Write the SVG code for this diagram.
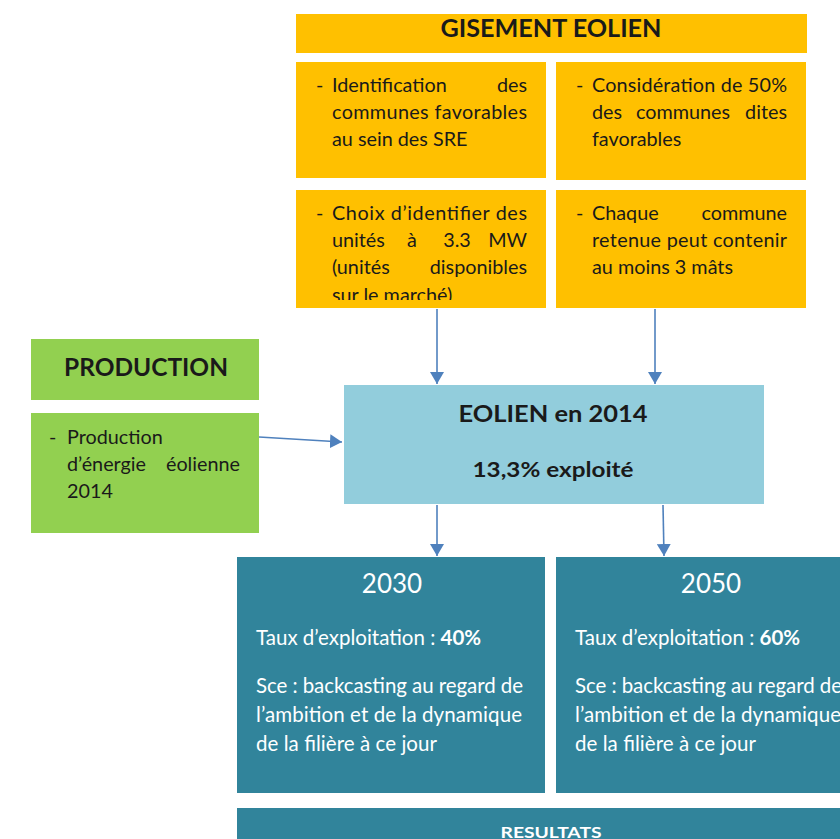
<svg xmlns="http://www.w3.org/2000/svg" width="840" height="839" viewBox="0 0 840 839">
<style>
.or{fill:#FFC000}
.gr{fill:#92D050}
.lb{fill:#92CDDC}
.tl{fill:#31849B}
.t{font-family:Lato,"Open Sans","Liberation Sans",sans-serif;font-size:19.8px;fill:#1a1a1a}
.w{font-family:Lato,"Open Sans","Liberation Sans",sans-serif;font-size:20.5px;fill:#ffffff}
.b{font-weight:bold}
.e{text-anchor:end}
.m{text-anchor:middle}
.cn{stroke:#4F81BD;stroke-width:1.6;fill:none}
</style>
<defs>
<marker id="ah" markerWidth="14" markerHeight="14" refX="12" refY="7" orient="auto" markerUnits="userSpaceOnUse">
<path d="M0,0 L12,7 L0,14 Z" fill="#4F81BD"/>
</marker>
<clipPath id="clipC"><rect x="296" y="190" width="250" height="110"/></clipPath>
</defs>
<rect width="840" height="839" fill="#ffffff"/>

<g id="gisement">
<rect class="or" x="296" y="14" width="511" height="39"/>
<text class="t b m" x="551" y="37" style="font-size:24px" textLength="221" lengthAdjust="spacingAndGlyphs">GISEMENT EOLIEN</text>
</g>

<g id="boxA">
<rect class="or" x="296" y="62" width="250" height="116"/>
<text class="t" x="316" y="92">-</text>
<text class="t" x="332" y="92">Identification</text>
<text class="t e" x="527" y="92">des</text>
<text class="t" x="332" y="119" textLength="195" lengthAdjust="spacing">communes favorables</text>
<text class="t" x="332" y="146">au sein des SRE</text>
</g>

<g id="boxB">
<rect class="or" x="556" y="62" width="250" height="118"/>
<text class="t" x="576" y="92">-</text>
<text class="t" x="592" y="92" textLength="195" lengthAdjust="spacing">Considération de 50%</text>
<text class="t" x="592" y="119">des</text>
<text class="t m" x="683" y="119">communes</text>
<text class="t e" x="787" y="119">dites</text>
<text class="t" x="592" y="146">favorables</text>
</g>

<g id="boxC">
<rect class="or" x="296" y="190" width="250" height="118"/>
<g clip-path="url(#clipC)">
<text class="t" x="316" y="220">-</text>
<text class="t" x="332" y="220" textLength="195" lengthAdjust="spacing">Choix d’identifier des</text>
<text class="t" x="332" y="247">unités</text>
<text class="t m" x="412" y="247">à</text>
<text class="t m" x="457" y="247">3.3</text>
<text class="t e" x="527" y="247">MW</text>
<text class="t" x="332" y="274">(unités</text>
<text class="t e" x="527" y="274">disponibles</text>
<text class="t" x="332" y="302">sur le marché)</text>
</g>
</g>

<g id="boxD">
<rect class="or" x="556" y="190" width="250" height="118"/>
<text class="t" x="576" y="220">-</text>
<text class="t" x="592" y="220">Chaque</text>
<text class="t e" x="787" y="220">commune</text>
<text class="t" x="592" y="247" textLength="195" lengthAdjust="spacing">retenue peut contenir</text>
<text class="t" x="592" y="274">au moins 3 mâts</text>
</g>

<g id="production-title">
<rect class="gr" x="31" y="339" width="228" height="61"/>
<text class="t b m" x="146" y="376" style="font-size:24px" textLength="164" lengthAdjust="spacingAndGlyphs">PRODUCTION</text>
</g>

<g id="production">
<rect class="gr" x="31" y="413" width="228" height="120"/>
<text class="t" x="49" y="444">-</text>
<text class="t" x="67" y="444">Production</text>
<text class="t" x="67" y="471">d’énergie</text>
<text class="t e" x="240" y="471">éolienne</text>
<text class="t" x="67" y="498">2014</text>
</g>

<g id="eolien2014">
<rect class="lb" x="344" y="385" width="420" height="119"/>
<text class="t b m" x="553" y="422" style="font-size:23px" textLength="189" lengthAdjust="spacingAndGlyphs">EOLIEN en 2014</text>
<text class="t b m" x="553" y="477" style="font-size:20px" textLength="161" lengthAdjust="spacingAndGlyphs">13,3% exploité</text>
</g>

<g id="s2030">
<rect class="tl" x="237" y="557" width="308" height="236"/>
<text class="w m" x="392" y="593" style="font-size:26px">2030</text>
<text class="w" x="256" y="645">Taux d’exploitation : <tspan class="b">40%</tspan></text>
<text class="w" x="256" y="693" textLength="267" lengthAdjust="spacing">Sce : backcasting au regard de</text>
<text class="w" x="256" y="722" textLength="266" lengthAdjust="spacing">l’ambition et de la dynamique</text>
<text class="w" x="256" y="751" textLength="181" lengthAdjust="spacing">de la filière à ce jour</text>
</g>

<g id="s2050">
<rect class="tl" x="556" y="557" width="290" height="236"/>
<text class="w m" x="711" y="593" style="font-size:26px">2050</text>
<text class="w" x="575" y="645">Taux d’exploitation : <tspan class="b">60%</tspan></text>
<text class="w" x="575" y="693" textLength="267" lengthAdjust="spacing">Sce : backcasting au regard de</text>
<text class="w" x="575" y="722" textLength="266" lengthAdjust="spacing">l’ambition et de la dynamique</text>
<text class="w" x="575" y="751" textLength="181" lengthAdjust="spacing">de la filière à ce jour</text>
</g>

<g id="resultats">
<rect class="tl" x="237" y="808" width="610" height="40"/>
<text class="w b m" x="551" y="838" style="font-size:16px" textLength="101" lengthAdjust="spacingAndGlyphs">RESULTATS</text>
</g>

<g id="connectors">
<line class="cn" x1="437" y1="309" x2="437" y2="384" marker-end="url(#ah)"/>
<line class="cn" x1="655" y1="309" x2="655" y2="384" marker-end="url(#ah)"/>
<line class="cn" x1="259" y1="437" x2="342" y2="442" marker-end="url(#ah)"/>
<line class="cn" x1="437" y1="505" x2="437" y2="556" marker-end="url(#ah)"/>
<line class="cn" x1="663" y1="505" x2="664" y2="556" marker-end="url(#ah)"/>
</g>
</svg>
